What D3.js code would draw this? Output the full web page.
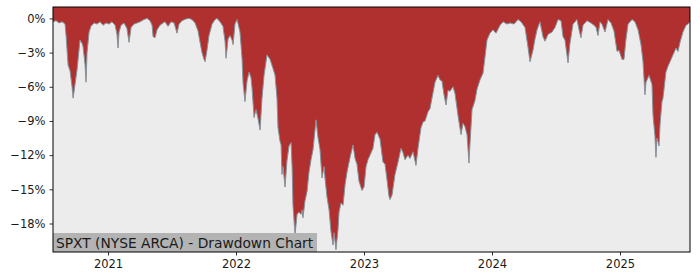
<!DOCTYPE html>
<html>
<head>
<meta charset="utf-8">
<script src="https://cdn.jsdelivr.net/npm/d3@7"></script>
<style>
  body { margin: 0; background: #fff; }
  svg { font-family: "DejaVu Sans", sans-serif; }
</style>
</head>
<body>
<svg id="chart" width="700" height="280"></svg>
<script>
// time as decimal years, drawdown in percent
const dates = [
  2020.570, 2020.594, 2020.617, 2020.641, 2020.664, 2020.672, 2020.688, 2020.703, 2020.719, 2020.727,
  2020.742, 2020.758, 2020.773, 2020.781, 2020.797, 2020.805, 2020.820, 2020.828, 2020.836, 2020.852,
  2020.867, 2020.891, 2020.914, 2020.938, 2020.961, 2020.984, 2021.008, 2021.031, 2021.055, 2021.070,
  2021.078, 2021.086, 2021.102, 2021.125, 2021.148, 2021.164, 2021.180, 2021.203, 2021.227, 2021.250,
  2021.281, 2021.305, 2021.328, 2021.344, 2021.352, 2021.367, 2021.383, 2021.406, 2021.430, 2021.445,
  2021.469, 2021.492, 2021.516, 2021.539, 2021.555, 2021.578, 2021.609, 2021.633, 2021.656, 2021.680,
  2021.703, 2021.719, 2021.734, 2021.750, 2021.758, 2021.773, 2021.789, 2021.813, 2021.836, 2021.852,
  2021.875, 2021.898, 2021.914, 2021.922, 2021.938, 2021.953, 2021.969, 2021.977, 2021.992, 2022.008,
  2022.031, 2022.047, 2022.055, 2022.070, 2022.086, 2022.102, 2022.117, 2022.125, 2022.141, 2022.156,
  2022.172, 2022.188, 2022.203, 2022.219, 2022.242, 2022.266, 2022.289, 2022.305, 2022.320, 2022.328,
  2022.344, 2022.352, 2022.359, 2022.367, 2022.383, 2022.398, 2022.414, 2022.430, 2022.438, 2022.445,
  2022.461, 2022.477, 2022.492, 2022.508, 2022.516, 2022.523, 2022.539, 2022.555, 2022.570, 2022.586,
  2022.602, 2022.617, 2022.625, 2022.641, 2022.656, 2022.672, 2022.688, 2022.695, 2022.711, 2022.727,
  2022.742, 2022.758, 2022.766, 2022.781, 2022.797, 2022.805, 2022.820, 2022.836, 2022.852, 2022.867,
  2022.891, 2022.914, 2022.930, 2022.945, 2022.961, 2022.984, 2023.000, 2023.016, 2023.031, 2023.047,
  2023.070, 2023.086, 2023.102, 2023.125, 2023.148, 2023.164, 2023.180, 2023.195, 2023.203, 2023.219,
  2023.242, 2023.266, 2023.289, 2023.305, 2023.320, 2023.344, 2023.359, 2023.383, 2023.406, 2023.422,
  2023.445, 2023.461, 2023.477, 2023.500, 2023.516, 2023.531, 2023.555, 2023.578, 2023.594, 2023.609,
  2023.625, 2023.641, 2023.656, 2023.672, 2023.695, 2023.711, 2023.734, 2023.758, 2023.773, 2023.789,
  2023.805, 2023.820, 2023.828, 2023.844, 2023.867, 2023.883, 2023.906, 2023.930, 2023.945, 2023.961,
  2023.984, 2024.008, 2024.031, 2024.063, 2024.086, 2024.117, 2024.141, 2024.172, 2024.203, 2024.227,
  2024.258, 2024.281, 2024.297, 2024.320, 2024.336, 2024.352, 2024.375, 2024.398, 2024.414, 2024.438,
  2024.469, 2024.492, 2024.516, 2024.539, 2024.555, 2024.570, 2024.594, 2024.609, 2024.633, 2024.664,
  2024.680, 2024.695, 2024.711, 2024.742, 2024.773, 2024.797, 2024.813, 2024.828, 2024.844, 2024.859,
  2024.883, 2024.906, 2024.930, 2024.953, 2024.977, 2024.992, 2025.016, 2025.031, 2025.047, 2025.063,
  2025.094, 2025.117, 2025.141, 2025.164, 2025.180, 2025.195, 2025.203, 2025.227, 2025.250, 2025.258,
  2025.273, 2025.281, 2025.289, 2025.305, 2025.313, 2025.328, 2025.336, 2025.359, 2025.375, 2025.391,
  2025.414, 2025.438, 2025.453, 2025.469, 2025.492, 2025.516, 2025.531, 2025.547
];

const drawdown = [
  -0.3, -0.2, -0.4, -0.3, -0.5, -1.5, -4.1, -4.6, -6.0, -7.0,
  -5.8, -4.5, -2.8, -1.9, -2.2, -2.5, -4.0, -5.6, -3.0, -1.2,
  -0.7, -0.4, -0.5, -0.3, -0.6, -0.4, -0.5, -0.3, -0.6, -1.4,
  -2.6, -1.2, -0.6, -0.4, -0.9, -2.1, -0.8, -0.5, -0.4, -0.3,
  -0.1, 0.0, -0.2, -0.6, -1.6, -1.7, -1.0, -0.6, -0.4, -0.3,
  -0.7, -0.3, -0.4, -1.3, -0.5, -0.2, -0.05, 0.0, -0.1, -0.4,
  -1.1, -2.1, -3.0, -3.6, -3.8, -2.8, -1.5, -0.5, -0.1, 0.0,
  -0.3, -0.7, -2.0, -3.5, -1.8, -1.5, -1.9, -2.3, -0.5, -0.1,
  -1.2, -3.5, -5.7, -7.3, -5.5, -4.7, -5.2, -6.1, -8.7, -8.0,
  -8.8, -9.8, -7.0, -5.0, -3.2, -3.6, -4.4, -5.0, -7.0, -9.6,
  -10.8, -11.1, -13.7, -13.0, -14.8, -12.5, -11.2, -10.9, -13.0, -16.4,
  -19.0, -17.2, -17.0, -17.2, -16.8, -17.5, -16.0, -15.2, -13.5, -12.4,
  -11.5, -9.8, -8.9, -10.5, -11.5, -14.0, -13.0, -14.0, -15.7, -16.8,
  -18.7, -19.9, -18.8, -20.3, -18.5, -17.0, -16.2, -16.4, -14.6, -13.5,
  -12.2, -11.1, -12.3, -12.8, -14.3, -15.1, -14.8, -13.0, -12.4, -12.0,
  -11.4, -10.2, -10.0, -10.6, -12.6, -12.8, -14.2, -15.6, -15.9, -15.5,
  -13.7, -12.6, -11.4, -11.8, -12.4, -12.0, -12.3, -11.7, -12.9, -11.4,
  -9.6, -9.1, -9.0, -8.2, -7.9, -7.0, -5.6, -5.0, -5.4, -5.5,
  -6.7, -7.6, -6.3, -6.4, -6.0, -6.6, -8.5, -10.2, -9.2, -9.5,
  -10.2, -12.7, -11.0, -8.0, -7.2, -6.2, -5.4, -4.8, -3.4, -1.9,
  -1.3, -1.0, -1.3, -0.6, -0.3, -0.5, -0.4, -0.5, -0.1, -0.3,
  -0.8, -2.5, -3.8, -2.8, -1.8, -1.0, -0.3, -1.6, -2.0, -1.4,
  -1.2, -0.8, -0.1, -0.2, -1.6, -1.9, -3.9, -2.2, -0.5, -0.1,
  -1.0, -1.7, -0.6, -0.2, -0.4, -0.6, -0.8, -1.5, -0.3, -0.5,
  -1.2, -0.1, -0.4, -1.1, -2.9, -2.8, -3.6, -3.6, -1.8, -0.5,
  -0.1, -0.3, -1.0, -2.3, -3.8, -6.7, -5.6, -5.0, -5.8, -8.5,
  -10.3, -12.2, -10.5, -11.2, -9.3, -7.3, -7.0, -4.7, -4.2, -3.8,
  -3.2, -2.6, -2.9, -2.1, -1.2, -0.6, -0.5, -0.3
];

const yearTicks = [2021, 2022, 2023, 2024, 2025];
const pctTicks = [0, -3, -6, -9, -12, -15, -18];
const chartLabel = "SPXT (NYSE ARCA) - Drawdown Chart";

const svg = d3.select("#chart");
const plotL = 53, plotR = 690, plotT = 7, plotB = 252;

const data = dates.map((d, i) => ({t: d, v: drawdown[i]}));

let x = d3.scaleLinear()
    .domain([dates[0], dates[dates.length - 1]])
    .range([plotL, plotR]);

let y = d3.scaleLinear()
    .domain([-20.5, 1.0])
    .range([plotB, plotT]);

// plot background
svg.append("rect")
    .attr("x", plotL).attr("y", plotT)
    .attr("width", plotR - plotL).attr("height", plotB - plotT)
    .attr("fill", "#ececec");

// red area from the top of the plot down to the drawdown curve
let area = d3.area()
    .x(d => x(d.t))
    .y0(y(1.0))
    .y1(d => y(d.v));

svg.append("path")
    .datum(data)
    .attr("d", area)
    .attr("fill", "#b03030");

let line = d3.line()
    .x(d => x(d.t))
    .y(d => y(d.v));

svg.append("path")
    .datum(data)
    .attr("d", line)
    .attr("fill", "none")
    .attr("stroke", "#86929a")
    .attr("stroke-width", 1);

// label box in the lower left corner
let labelG = svg.append("g");
labelG.append("rect")
    .attr("x", plotL).attr("y", 233)
    .attr("width", 264).attr("height", plotB - 233)
    .attr("fill", "#b3b3b3");
labelG.append("text")
    .attr("x", plotL + 3).attr("y", 247.5)
    .attr("font-size", "13.8px")
    .attr("fill", "#1a1a1a")
    .text(chartLabel);

// axes
let xAxis = d3.axisBottom(x)
    .tickValues(yearTicks)
    .tickFormat(d3.format("d"))
    .tickSize(3.5)
    .tickPadding(4);

let yAxis = d3.axisLeft(y)
    .tickValues(pctTicks)
    .tickFormat(d => (d < 0 ? "\u2212" + Math.abs(d) : d) + "%")
    .tickSize(3.5)
    .tickPadding(4);

let gx = svg.append("g")
    .attr("transform", `translate(0,${plotB})`)
    .call(xAxis);

let gy = svg.append("g")
    .attr("transform", `translate(${plotL},0)`)
    .call(yAxis);

[gx, gy].forEach(g => {
  g.select(".domain").remove();
  g.selectAll(".tick line").attr("stroke", "#000").attr("stroke-width", 0.8);
  g.selectAll(".tick text")
      .attr("fill", "#1a1a1a")
      .style("font-size", "11.5px")
      .style("font-family", "DejaVu Sans, sans-serif");
});

// frame
svg.append("rect")
    .attr("x", plotL).attr("y", plotT)
    .attr("width", plotR - plotL).attr("height", plotB - plotT)
    .attr("fill", "none")
    .attr("stroke", "#000")
    .attr("stroke-width", 1);
</script>
</body>
</html>
